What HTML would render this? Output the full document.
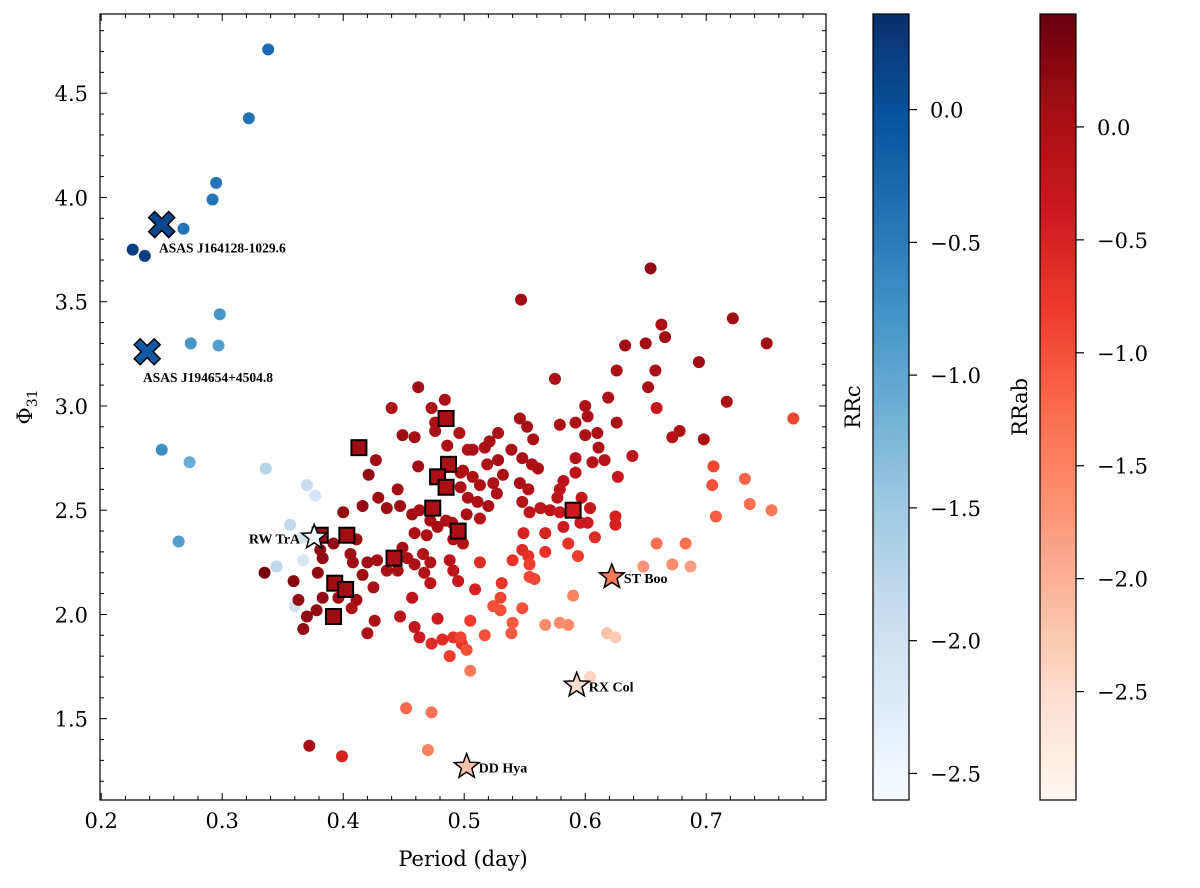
<!DOCTYPE html>
<html><head><meta charset="utf-8"><style>
body{margin:0;background:#fff;}
svg{display:block;font-family:"DejaVu Serif","Liberation Serif",serif;}
</style></head><body>
<svg id="chart" width="1200" height="888" viewBox="0 0 1200 888" xmlns="http://www.w3.org/2000/svg"></svg>
<script>
// ---- data ----
const rrcPeriod=[0.338,0.322,0.295,0.292,0.268,0.226,0.236,0.298,0.274,0.297,0.250,0.273,0.264,0.336,0.370,0.377,0.356,0.366,0.345,0.367,0.360];
const rrcPhi=[4.71,4.38,4.07,3.99,3.85,3.75,3.72,3.44,3.30,3.29,2.79,2.73,2.35,2.70,2.62,2.57,2.43,2.37,2.23,2.26,2.04];
const rrcVal=[-0.3,-0.4,-0.4,-0.4,-0.4,0.2,0.2,-0.8,-0.8,-0.9,-0.7,-1.1,-0.9,-1.7,-1.9,-2.1,-1.8,-2.1,-1.8,-2.1,-2.0];
const rrabPeriod=[0.654,0.547,0.722,0.750,0.663,0.666,0.650,0.633,0.694,0.626,0.658,0.652,0.462,0.619,0.717,0.659,0.772,0.698,0.678,0.672,0.706,0.705,0.708,0.732,0.736,0.754,0.687,0.683,0.672,0.648,0.590,0.618,0.625,0.567,0.586,0.604,0.452,0.473,0.372,0.399,0.470,0.505,0.335,
0.440,0.473,0.484,0.476,0.476,0.496,0.449,0.459,0.486,0.503,0.427,0.462,0.421,0.497,0.497,0.445,0.429,0.416,0.436,0.447,0.457,0.463,0.400,0.485,0.472,0.459,0.469,0.478,0.490,0.491,0.499,0.392,0.411,0.381,0.383,0.406,0.408,0.420,0.428,0.449,0.453,0.459,0.436,0.466,0.472,0.488,0.491,0.495,0.359,0.379,0.416,0.445,0.467,0.363,0.383,0.396,0.411,0.425,0.407,0.370,0.378,0.367,0.420,0.426,0.447,0.457,0.472,0.459,0.478,0.482,0.491,0.473,0.488,0.498,0.463,
0.575,0.600,0.602,0.546,0.552,0.579,0.592,0.626,0.528,0.600,0.610,0.557,0.611,0.521,0.517,0.507,0.539,0.548,0.592,0.616,0.606,0.639,0.528,0.519,0.556,0.561,0.499,0.507,0.532,0.592,0.582,0.627,0.524,0.513,0.546,0.579,0.553,0.527,0.503,0.511,0.548,0.577,0.597,0.520,0.502,0.604,0.554,0.563,0.571,0.579,0.596,0.602,0.625,0.625,0.513,0.582,0.608,0.586,0.594,0.549,0.567,0.567,0.548,0.540,0.553,0.554,0.659,0.513,0.554,0.558,0.531,0.509,0.530,0.524,0.530,0.548,0.505,0.497,0.517,0.540,0.539,0.579,0.502];
const rrabPhi=[3.66,3.51,3.42,3.30,3.39,3.33,3.30,3.29,3.21,3.17,3.17,3.09,3.09,3.04,3.02,2.99,2.94,2.84,2.88,2.85,2.71,2.62,2.47,2.65,2.53,2.50,2.23,2.34,2.24,2.23,2.09,1.91,1.89,1.95,1.95,1.70,1.55,1.53,1.37,1.32,1.35,1.73,2.20,
2.99,2.99,3.03,2.92,2.88,2.87,2.86,2.85,2.81,2.79,2.74,2.71,2.67,2.68,2.61,2.60,2.56,2.52,2.51,2.52,2.48,2.50,2.49,2.45,2.45,2.39,2.38,2.42,2.44,2.36,2.34,2.34,2.36,2.31,2.27,2.29,2.25,2.25,2.26,2.32,2.27,2.24,2.21,2.29,2.25,2.26,2.21,2.16,2.16,2.20,2.19,2.21,2.20,2.07,2.08,2.08,2.07,2.13,2.03,1.99,2.02,1.93,1.91,1.97,1.99,2.08,2.15,1.94,1.98,1.88,1.89,1.86,1.80,1.86,1.89,
3.13,3.00,2.95,2.94,2.90,2.91,2.92,2.92,2.87,2.86,2.87,2.84,2.80,2.83,2.80,2.79,2.79,2.75,2.75,2.74,2.73,2.76,2.74,2.72,2.72,2.70,2.69,2.66,2.67,2.68,2.64,2.66,2.63,2.62,2.63,2.60,2.60,2.58,2.56,2.54,2.54,2.56,2.56,2.52,2.48,2.51,2.49,2.51,2.50,2.49,2.44,2.44,2.47,2.43,2.46,2.42,2.37,2.34,2.28,2.39,2.39,2.30,2.31,2.26,2.28,2.24,2.34,2.25,2.18,2.17,2.15,2.12,2.08,2.04,2.02,2.03,1.97,1.89,1.90,1.96,1.91,1.96,1.83];
const rrabVal=[0.2,0.1,0.1,0.1,0.0,0.1,0.1,0.1,0.1,0.0,0.0,0.0,0.1,0.0,0.0,-0.3,-0.9,0.0,0.0,-0.1,-0.9,-1.0,-1.1,-1.2,-1.3,-1.4,-1.8,-1.3,-1.6,-1.7,-1.5,-2.2,-2.3,-1.6,-1.6,-2.4,-1.2,-1.3,0.0,-0.5,-1.5,-1.4,0.4,
0.0,0.0,0.0,0.0,0.0,-0.1,0.1,0.1,0.0,-0.1,0.1,0.1,0.2,0.0,0.0,0.1,0.1,0.2,0.1,0.1,0.1,0.0,0.2,0.0,0.0,0.0,0.0,0.0,-0.1,-0.1,-0.1,0.2,0.1,0.2,0.2,0.1,0.1,0.1,0.1,0.0,0.0,0.0,0.0,-0.1,-0.1,-0.2,-0.2,-0.3,0.3,0.2,0.1,0.0,-0.1,0.2,0.2,0.1,0.1,0.0,0.0,0.2,0.2,0.2,0.0,0.0,-0.2,-0.2,-0.2,-0.3,-0.4,-0.6,-0.7,-0.6,-0.8,-0.7,-0.4,
0.0,0.0,0.0,0.0,0.0,0.0,0.0,0.0,0.0,0.0,0.0,0.0,0.0,0.0,0.0,0.0,0.0,0.0,-0.1,-0.1,-0.1,-0.2,0.0,0.0,0.0,0.0,0.0,0.0,0.0,-0.2,-0.2,-0.3,0.0,0.0,0.0,-0.2,-0.1,0.0,0.0,0.0,-0.1,-0.2,-0.3,0.0,0.0,-0.3,-0.2,-0.2,-0.2,-0.3,-0.4,-0.4,-0.5,-0.5,-0.1,-0.4,-0.6,-0.7,-0.8,-0.5,-0.5,-0.7,-0.6,-0.7,-0.7,-0.8,-1.3,-0.6,-0.9,-0.9,-0.7,-0.5,-0.9,-1.0,-1.0,-1.0,-0.8,-0.9,-1.0,-1.1,-1.1,-1.6,-1.0];
const sqPeriod=[0.413,0.485,0.487,0.478,0.485,0.474,0.495,0.403,0.381,0.442,0.393,0.402,0.392,0.590];
const sqPhi=[2.80,2.94,2.72,2.66,2.61,2.51,2.40,2.38,2.38,2.27,2.15,2.12,1.99,2.50];
const sqVal=[0.1,0.0,0.0,0.0,0.0,0.0,0.0,0.1,0.1,0.0,0.1,0.1,0.1,-0.4];
const xPeriod=[0.250,0.238], xPhi=[3.87,3.26], xVal=[0.1,-0.1];
const xLabels=["ASAS J164128-1029.6","ASAS J194654+4504.8"];
const starNames=["RW TrA","ST Boo","RX Col","DD Hya"];
const starPeriod=[0.376,0.622,0.593,0.502];
const starPhi=[2.37,2.18,1.66,1.27];
const starVal=[-2.5,-1.4,-2.5,-2.2];
const starType=["c","ab","ab","ab"];
const xTicks=[0.2,0.3,0.4,0.5,0.6,0.7];
const yTicks=[1.5,2.0,2.5,3.0,3.5,4.0,4.5];
const cbcTicks=[0.0,-0.5,-1.0,-1.5,-2.0,-2.5];
const cbabTicks=[0.0,-0.5,-1.0,-1.5,-2.0,-2.5];

// ---- scales ----
const L=100,R=826,T=14,B=800;
const X0=0.199,X1=0.799,Y0=1.11,Y1=4.88;
const sx=v=>L+(v-X0)/(X1-X0)*(R-L);
const sy=v=>B-(v-Y0)/(Y1-Y0)*(B-T);
const cMin=-2.6,cMax=0.36,abMin=-2.98,abMax=0.5;
const cy=v=>B-(v-cMin)/(cMax-cMin)*(B-T);
const aby=v=>B-(v-abMin)/(abMax-abMin)*(B-T);
const blues=["#f7fbff","#deebf7","#c6dbef","#9ecae1","#6baed6","#4292c6","#2171b5","#08519c","#08306b"];
const reds=["#fff5f0","#fee0d2","#fcbba1","#fc9272","#fb6a4a","#ef3b2c","#cb181d","#a50f15","#67000d"];
function hex(h){return [1,3,5].map(i=>parseInt(h.substr(i,2),16));}
function cmap(stops,t){t=Math.max(0,Math.min(1,t));const f=t*(stops.length-1);const i=Math.min(stops.length-2,Math.floor(f));const u=f-i;const a=hex(stops[i]),b=hex(stops[i+1]);return "rgb("+a.map((c,k)=>Math.round(c+(b[k]-c)*u)).join(",")+")";}
const colC=v=>cmap(blues,(v-cMin)/(cMax-cMin));
const colAB=v=>cmap(reds,(v-abMin)/(abMax-abMin));

const NS="http://www.w3.org/2000/svg";
const svg=document.getElementById('chart');
function el(tag,attrs,parent){const e=document.createElementNS(NS,tag);for(const k in attrs)e.setAttribute(k,attrs[k]);(parent||svg).appendChild(e);return e;}
const fmt=v=>(v<0?"\u2212":"")+Math.abs(v).toFixed(1);

const defs=el('defs',{});
[["gc",blues],["gab",reds]].forEach(([id,st])=>{const g=el('linearGradient',{id:id,x1:0,y1:1,x2:0,y2:0},defs);st.forEach((c,i)=>el('stop',{offset:(i/(st.length-1)),'stop-color':c},g));});

const gpts=el('g',{});


rrcPeriod.forEach((p,i)=>{const c=el('circle',{cx:sx(p),cy:sy(rrcPhi[i]),r:6,fill:colC(rrcVal[i])},gpts);

});
rrabPeriod.forEach((p,i)=>{const c=el('circle',{cx:sx(p),cy:sy(rrabPhi[i]),r:6,fill:colAB(rrabVal[i])},gpts);

});
sqPeriod.forEach((p,i)=>{const c=el('rect',{x:sx(p)-7.5,y:sy(sqPhi[i])-7.5,width:15,height:15,fill:colAB(sqVal[i]),stroke:'#000','stroke-width':2},gpts);

});
xPeriod.forEach((p,i)=>{const x=sx(p),y=sy(xPhi[i]),a=6,b=13;
const d=`M${x-b} ${y-b+a}L${x-b+a} ${y-b}L${x} ${y-a}L${x+b-a} ${y-b}L${x+b} ${y-b+a}L${x+a} ${y}L${x+b} ${y+b-a}L${x+b-a} ${y+b}L${x} ${y+a}L${x-b+a} ${y+b}L${x-b} ${y+b-a}L${x-a} ${y}Z`;
const m=el('path',{d:d,fill:colC(xVal[i]),stroke:'#000','stroke-width':1.5},gpts);


const t=el('text',{x:i==0?159:143,y:y+(i==0?28:30),'font-size':13.5,'font-weight':'bold','font-family':'Liberation Serif, serif',fill:'#000'},gpts);
t.textContent=xLabels[i];

});
starPeriod.forEach((p,i)=>{const x=sx(p),y=sy(starPhi[i]);let pts=[];for(let k=0;k<10;k++){const r=k%2?5.5:13;const ang=-Math.PI/2+k*Math.PI/5;pts.push((x+r*Math.cos(ang)).toFixed(1)+","+(y+r*Math.sin(ang)).toFixed(1));}
const fill=starType[i]=="c"?colC(starVal[i]):colAB(starVal[i]);
const s=el('polygon',{points:pts.join(" "),fill:fill,stroke:'#000','stroke-width':1.5},gpts);


const left=i==0;
const t=el('text',{x:left?x-14:x+12,y:y+6,'font-size':14,'font-weight':'bold','font-family':'Liberation Serif, serif','text-anchor':left?'end':'start',fill:'#000'},gpts);
t.textContent=starNames[i];

});

const ax=el('g',{});


el('rect',{x:L,y:T,width:R-L,height:B-T,fill:'none',stroke:'#000','stroke-width':1.2},ax);
for(let v=0.2;v<=0.7901;v+=0.02){const x=sx(v);const major=Math.abs(v*10-Math.round(v*10))<0.01;const len=major?7:4;
el('line',{x1:x,y1:B,x2:x,y2:B-len,stroke:'#000'},ax);el('line',{x1:x,y1:T,x2:x,y2:T+len,stroke:'#000'},ax);}
for(let v=1.2;v<=4.8501;v+=0.1){const y=sy(v);const major=Math.abs(v*2-Math.round(v*2))<0.01;const len=major?7:4;
el('line',{x1:L,y1:y,x2:L+len,y2:y,stroke:'#000'},ax);el('line',{x1:R,y1:y,x2:R-len,y2:y,stroke:'#000'},ax);}
xTicks.forEach(v=>{const t=el('text',{x:sx(v),y:B+28,'font-size':21,'text-anchor':'middle'},ax);t.textContent=v.toFixed(1);

});
yTicks.forEach(v=>{const t=el('text',{x:L-12,y:sy(v)+8,'font-size':21,'text-anchor':'end'},ax);t.textContent=v.toFixed(1);

});

const xt=el('text',{x:463,y:866,'font-size':21,'text-anchor':'middle'});
xt.textContent='Period (day)';


const yt=el('text',{transform:'translate(32,407) rotate(-90)','font-size':21,'text-anchor':'middle'});


yt.textContent='Φ';
const ys=el('tspan',{'font-size':14,dy:5},yt);
ys.textContent='31';

function colorbar(x0,grad,scale,ticks,title,tx,name){
const g=el('g',{});


el('rect',{x:x0,y:T,width:36,height:B-T,fill:'url(#'+grad+')',stroke:'#000','stroke-width':1.2},g);
ticks.forEach(v=>{const y=scale(v);el('line',{x1:x0+36,y1:y,x2:x0+44,y2:y,stroke:'#000','stroke-width':1.2},g);
const t=el('text',{x:x0+57,y:y+8,'font-size':21},g);t.textContent=fmt(v);

});
const t=el('text',{transform:`translate(${tx},407) rotate(-90)`,'font-size':21,'text-anchor':'middle'},g);t.textContent=title;

}
colorbar(873,'gc',cy,cbcTicks,'RRc',860,'rrc-colorbar');
colorbar(1040,'gab',aby,cbabTicks,'RRab',1027,'rrab-colorbar');
</script>
</body></html>
